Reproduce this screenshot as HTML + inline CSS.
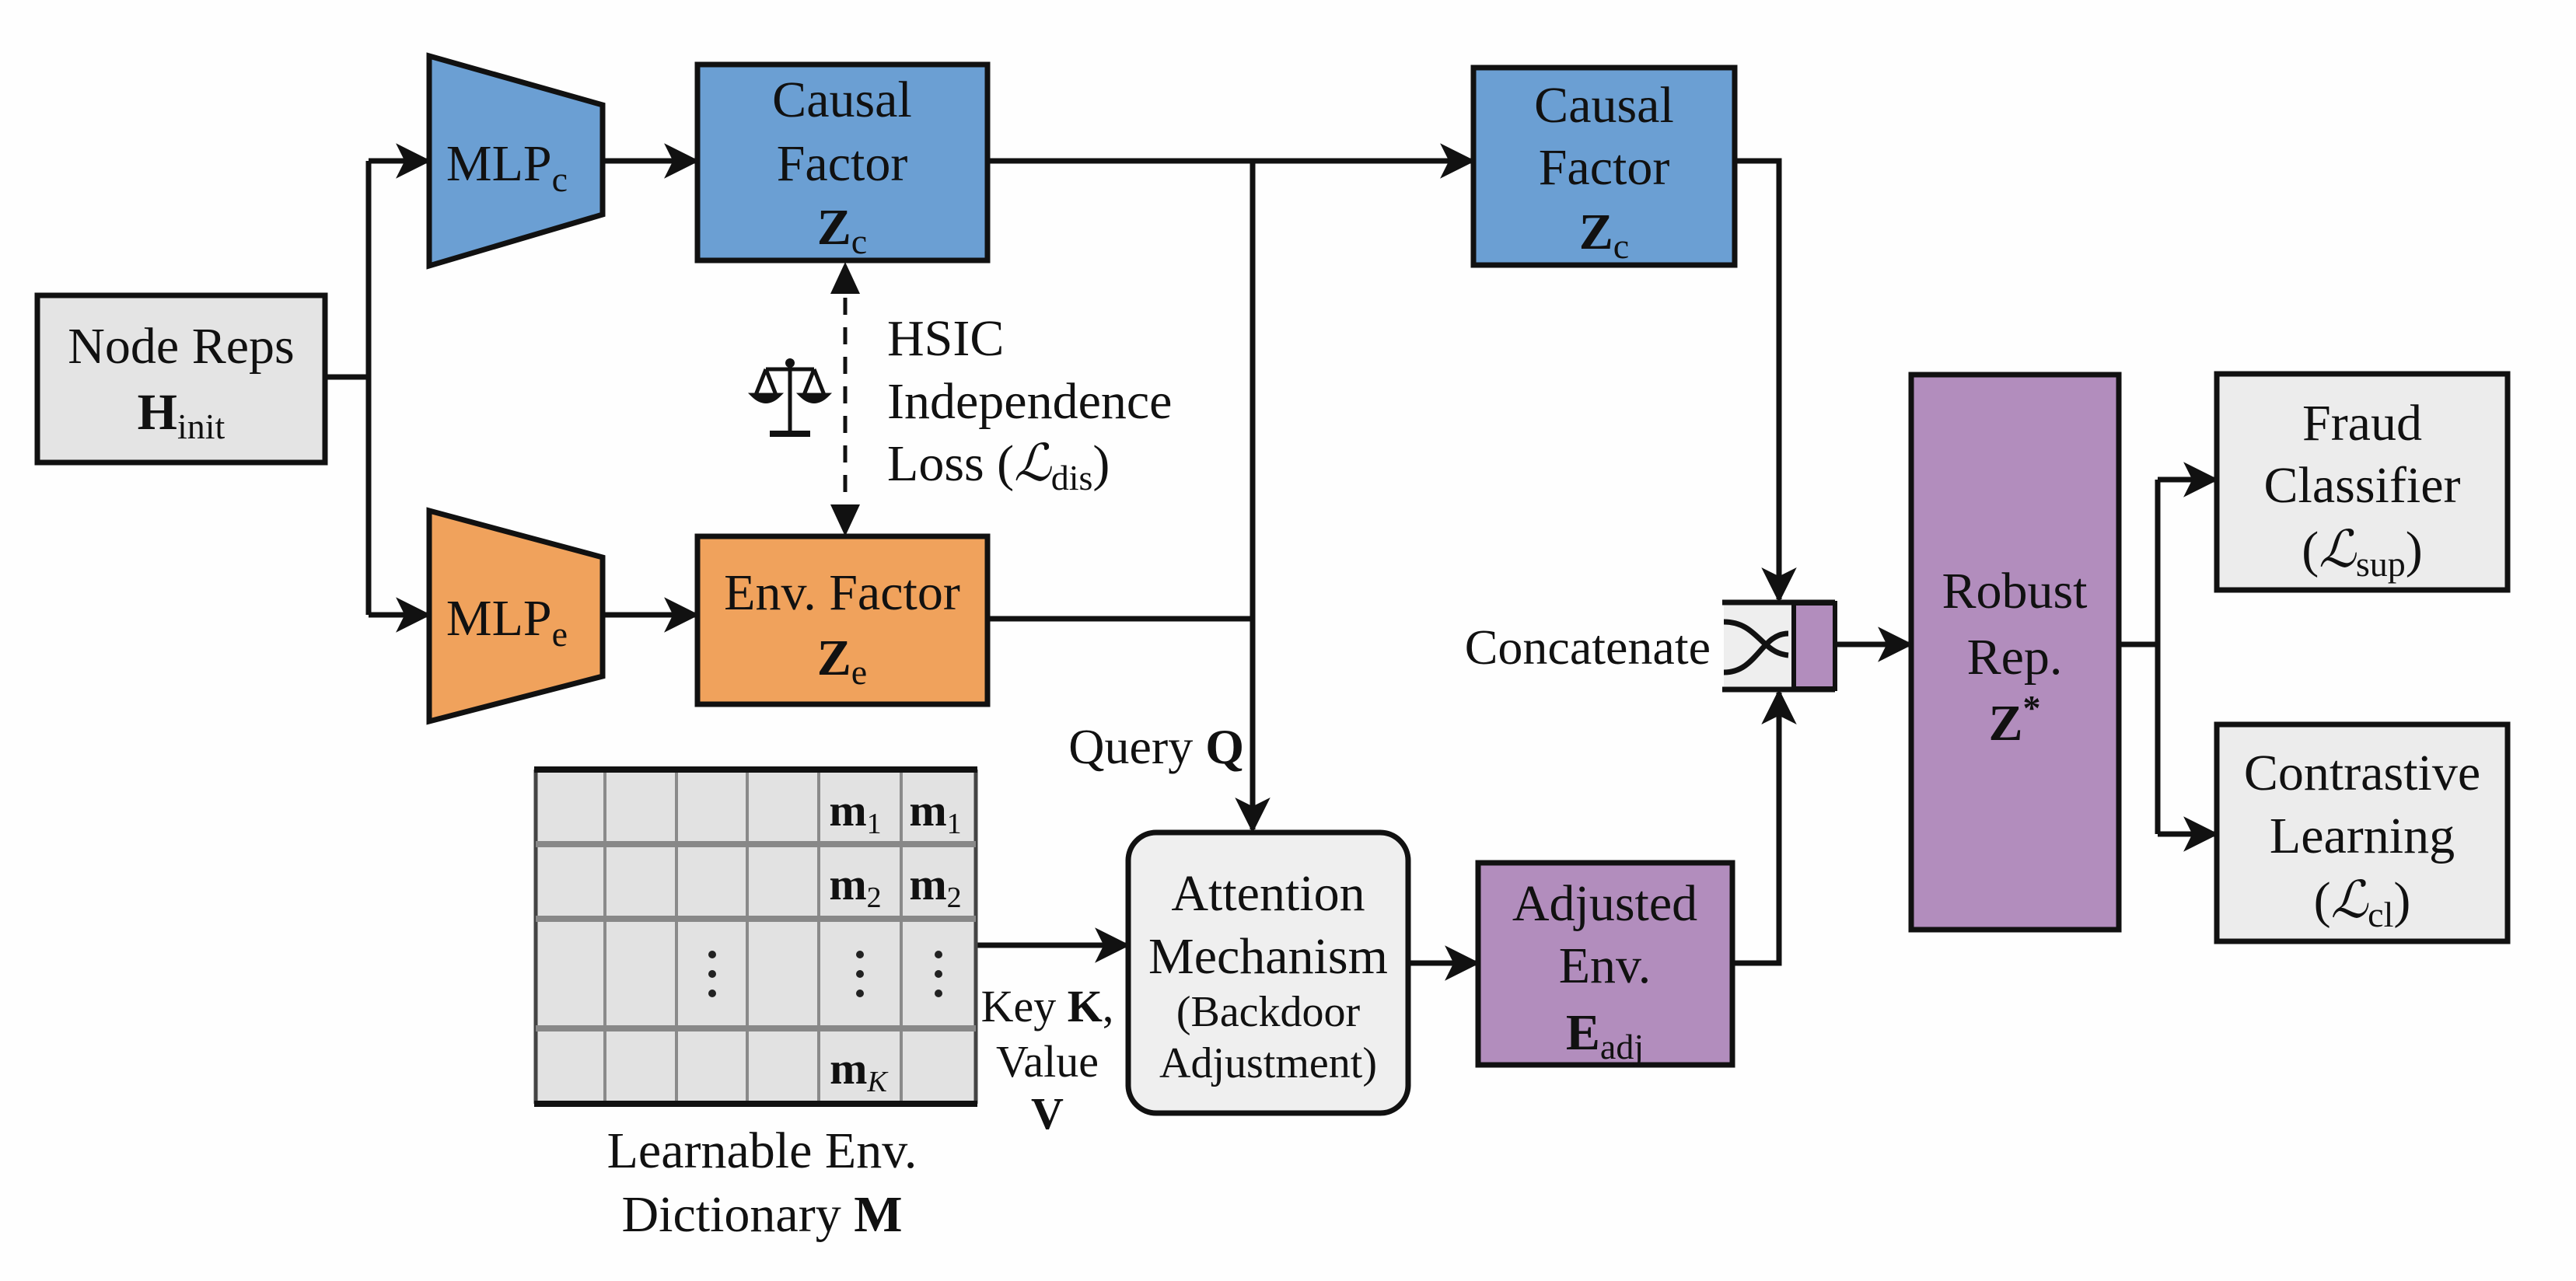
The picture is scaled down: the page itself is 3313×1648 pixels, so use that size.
<!DOCTYPE html>
<html><head><meta charset="utf-8"><style>
html,body{margin:0;padding:0;background:#fefefe;}
svg{display:block;font-family:"Liberation Serif","Times New Roman",Times,serif;}
svg text, svg tspan{font-family:"Liberation Serif","Times New Roman",Times,serif;fill:#111;}
</style></head><body>
<svg width="3313" height="1648" viewBox="0 0 3313 1648" xmlns="http://www.w3.org/2000/svg">
<defs>
<marker id="a" viewBox="0 0 10 10" refX="9" refY="5" markerWidth="6.5" markerHeight="6.5" orient="auto" markerUnits="strokeWidth"><path d="M0,0 L10,5 L0,10 L2.5,5 z" fill="#111"/></marker>
</defs>
<rect width="3313" height="1648" fill="#fefefe"/>
<g stroke="#111" stroke-width="7" fill="none">
<polyline points="418,485 474,485"/>
<polyline points="474,207 474,791"/>
<line x1="474" y1="207" x2="550" y2="207" marker-end="url(#a)"/>
<line x1="474" y1="791" x2="550" y2="791" marker-end="url(#a)"/>
<line x1="775" y1="207" x2="895" y2="207" marker-end="url(#a)"/>
<line x1="775" y1="791" x2="895" y2="791" marker-end="url(#a)"/>
<line x1="1270" y1="207" x2="1893" y2="207" marker-end="url(#a)"/>
<line x1="1270" y1="796" x2="1611" y2="796"/>
<line x1="1611" y1="207" x2="1611" y2="1067" marker-end="url(#a)"/>
<polyline points="2231,207 2288,207 2288,771" marker-end="url(#a)"/>
<polyline points="2228,1239 2288,1239 2288,891" marker-end="url(#a)"/>
<line x1="2360" y1="829" x2="2456" y2="829" marker-end="url(#a)"/>
<line x1="2725" y1="829" x2="2775" y2="829"/>
<polyline points="2775,617 2775,1073"/>
<line x1="2775" y1="617" x2="2849" y2="617" marker-end="url(#a)"/>
<line x1="2775" y1="1073" x2="2849" y2="1073" marker-end="url(#a)"/>
<line x1="1255" y1="1216" x2="1449" y2="1216" marker-end="url(#a)"/>
<line x1="1811" y1="1239" x2="1899" y2="1239" marker-end="url(#a)"/>
<line x1="1087" y1="345" x2="1087" y2="682" stroke-dasharray="22,16" stroke-width="5"/>
</g>
<path d="M1087,337 L1068,378 L1106,378 z" fill="#111"/>
<path d="M1087,690 L1068,649 L1106,649 z" fill="#111"/>
<g stroke="#111" stroke-width="7">
<rect x="48" y="380" width="370" height="215" fill="#e4e4e4"/>
<polygon points="552,72 775,135 775,276 552,342" fill="#6b9fd3"/>
<polygon points="552,657 775,717 775,870 552,928" fill="#f0a25c"/>
<rect x="897" y="83" width="373" height="252" fill="#6b9fd3"/>
<rect x="897" y="690" width="373" height="216" fill="#f0a25c"/>
<rect x="1895" y="87" width="336" height="254" fill="#6b9fd3"/>
<rect x="2458" y="482" width="267" height="714" fill="#b28dbd"/>
<rect x="2851" y="481" width="374" height="278" fill="#ececec"/>
<rect x="2851" y="932" width="374" height="279" fill="#ececec"/>
<rect x="1451" y="1071" width="360" height="361" rx="36" fill="#efefef"/>
<rect x="1901" y="1110" width="327" height="260" fill="#b28dbd"/>
</g>
<rect x="2217" y="776" width="90" height="110" fill="#eeeeee"/>
<rect x="2307" y="776" width="53" height="110" fill="#b28dbd" stroke="#111" stroke-width="6"/>
<g stroke="#111" stroke-width="7" fill="none">
<line x1="2215" y1="775" x2="2360" y2="775"/>
<line x1="2215" y1="887" x2="2360" y2="887"/>
<path d="M2217,800 C2260,800 2265,840 2300,843"/>
<path d="M2217,865 C2260,865 2265,815 2300,815"/>
</g>
<rect x="689" y="990" width="566" height="430" fill="#e2e2e2"/>
<g stroke="#8a8a8a" stroke-width="4">
<line x1="778" y1="990" x2="778" y2="1420"/><line x1="870" y1="990" x2="870" y2="1420"/>
<line x1="961" y1="990" x2="961" y2="1420"/><line x1="1053" y1="990" x2="1053" y2="1420"/>
<line x1="1159" y1="990" x2="1159" y2="1420"/>
<line x1="689" y1="990" x2="689" y2="1420" stroke="#444" stroke-width="5"/>
<line x1="1255" y1="990" x2="1255" y2="1420" stroke="#444" stroke-width="5"/>
</g>
<g stroke="#888" stroke-width="8">
<line x1="689" y1="1086" x2="1255" y2="1086"/><line x1="689" y1="1182" x2="1255" y2="1182"/><line x1="689" y1="1323" x2="1255" y2="1323"/>
</g>
<g stroke="#111" stroke-width="8"><line x1="687" y1="990" x2="1257" y2="990"/><line x1="687" y1="1420" x2="1257" y2="1420"/></g>
<g fill="#222">
<circle cx="916" cy="1228" r="5"/><circle cx="916" cy="1253" r="5"/><circle cx="916" cy="1278" r="5"/>
<circle cx="1106" cy="1228" r="5"/><circle cx="1106" cy="1253" r="5"/><circle cx="1106" cy="1278" r="5"/>
<circle cx="1207" cy="1228" r="5"/><circle cx="1207" cy="1253" r="5"/><circle cx="1207" cy="1278" r="5"/>
</g>
<g font-size="58" font-weight="bold" text-anchor="middle">
<text x="1100" y="1062">m<tspan font-size="38" font-weight="normal" dy="10">1</tspan></text>
<text x="1203" y="1062">m<tspan font-size="38" font-weight="normal" dy="10">1</tspan></text>
<text x="1100" y="1157">m<tspan font-size="38" font-weight="normal" dy="10">2</tspan></text>
<text x="1203" y="1157">m<tspan font-size="38" font-weight="normal" dy="10">2</tspan></text>
<text x="1104" y="1394">m<tspan font-size="38" font-weight="normal" font-style="italic" dy="10">K</tspan></text>
</g>
<g stroke="#111" stroke-width="5" fill="none">
<line x1="1016" y1="462" x2="1016" y2="555"/>
<line x1="985" y1="475" x2="1047" y2="475"/>
<path d="M985,475 L972,508 M985,475 L998,508 M1047,475 L1034,508 M1047,475 L1060,508"/>
<path d="M968,508 Q985,525 1002,508 z M1030,508 Q1047,525 1064,508 z" fill="#111"/>
<line x1="990" y1="558" x2="1042" y2="558" stroke-width="8"/>
</g>
<circle cx="1016" cy="467" r="6" fill="#111"/>
<g font-size="66" text-anchor="middle">
<text x="233" y="467">Node Reps</text>
<text x="233" y="552"><tspan font-weight="bold">H</tspan><tspan font-size="46" dy="12">init</tspan></text>
<text x="652" y="232">MLP<tspan font-size="46" dy="14">c</tspan></text>
<text x="652" y="817">MLP<tspan font-size="46" dy="14">e</tspan></text>
<text x="1083" y="150">Causal</text>
<text x="1083" y="232">Factor</text>
<text x="1083" y="314"><tspan font-weight="bold">Z</tspan><tspan font-size="46" dy="12">c</tspan></text>
<text x="1083" y="784">Env. Factor</text>
<text x="1083" y="868"><tspan font-weight="bold">Z</tspan><tspan font-size="46" dy="12">e</tspan></text>
<text x="2063" y="157">Causal</text>
<text x="2063" y="237">Factor</text>
<text x="2063" y="320"><tspan font-weight="bold">Z</tspan><tspan font-size="46" dy="12">c</tspan></text>
<text x="2591" y="782">Robust</text>
<text x="2591" y="867">Rep.</text>
<text x="2591" y="952" font-weight="bold">Z<tspan font-size="46" dy="-26">*</tspan></text>
<text x="3038" y="566">Fraud</text>
<text x="3038" y="646">Classifier</text>
<text x="3038" y="729">(<tspan font-style="italic">ℒ</tspan><tspan font-size="46" dy="12">sup</tspan><tspan dy="-12">)</tspan></text>
<text x="3038" y="1016">Contrastive</text>
<text x="3038" y="1097">Learning</text>
<text x="3038" y="1180">(<tspan font-style="italic">ℒ</tspan><tspan font-size="46" dy="12">cl</tspan><tspan dy="-12">)</tspan></text>
<text x="1631" y="1171">Attention</text>
<text x="1631" y="1252">Mechanism</text>
<text x="1631" y="1320" font-size="56">(Backdoor</text>
<text x="1631" y="1386" font-size="56">Adjustment)</text>
<text x="2064" y="1184">Adjusted</text>
<text x="2064" y="1264">Env.</text>
<text x="2064" y="1350"><tspan font-weight="bold">E</tspan><tspan font-size="46" dy="12">adj</tspan></text>
<text x="1347" y="1314" font-size="58">Key <tspan font-weight="bold">K</tspan>,</text>
<text x="1347" y="1385" font-size="58">Value</text>
<text x="1347" y="1452" font-size="58" font-weight="bold">V</text>
<text x="980" y="1502">Learnable Env.</text>
<text x="980" y="1584">Dictionary <tspan font-weight="bold">M</tspan></text>
</g>
<g font-size="66" text-anchor="start">
<text x="1141" y="457">HSIC</text>
<text x="1141" y="538">Independence</text>
<text x="1141" y="618">Loss (<tspan font-style="italic">ℒ</tspan><tspan font-size="46" dy="12">dis</tspan><tspan dy="-12">)</tspan></text>
</g>
<g font-size="64" text-anchor="end">
<text x="2200" y="854">Concatenate</text>
<text x="1600" y="982">Query <tspan font-weight="bold">Q</tspan></text>
</g>
</svg>
</body></html>
